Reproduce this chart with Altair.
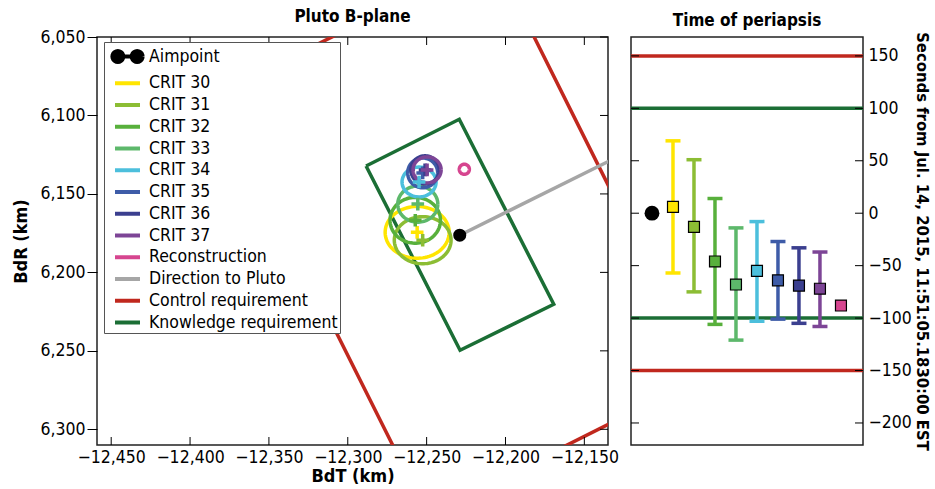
import altair as alt
import pandas as pd
import numpy as np

FONT = "DejaVu Sans Condensed, Liberation Sans Narrow, Arial Narrow, sans-serif"

# ---------------- series / colours ----------------
series = ["Aimpoint", "CRIT 30", "CRIT 31", "CRIT 32", "CRIT 33", "CRIT 34",
          "CRIT 35", "CRIT 36", "CRIT 37", "Reconstruction",
          "Direction to Pluto", "Control requirement", "Knowledge requirement"]
colors = ["#000000", "#ffe500", "#8cbd34", "#58b03c", "#5db86b", "#4cbfdc",
          "#3e5ca8", "#3b3f8f", "#7d4596", "#d6458f",
          "#a6a6a6", "#c0281e", "#1b6e35"]

# ---------------- B-plane data ----------------
bdt_ticks = [-12450, -12400, -12350, -12300, -12250, -12200, -12150]
bdr_ticks = [6050, 6100, 6150, 6200, 6250, 6300]

aim_bdt = [-12229.0]
aim_bdr = [6176.3]

ell_names = ["CRIT 30", "CRIT 31", "CRIT 32", "CRIT 33", "CRIT 34",
             "CRIT 35", "CRIT 36", "CRIT 37", "Reconstruction"]
ell_bdt = [-12256.0, -12252.5, -12257.2, -12255.6, -12254.8, -12252.5, -12251.0, -12249.7, -12226.1]
ell_bdr = [6174.5, 6179.5, 6166.8, 6156.5, 6142.4, 6136.6, 6134.7, 6134.7, 6134.3]
ell_a = [20.3, 18.0, 16.0, 12.7, 10.8, 9.5, 9.0, 8.9, 3.2]   # semi-axis along BdT (km)
ell_b = [16.5, 15.0, 14.6, 11.5, 9.5, 9.5, 9.0, 8.3, 3.2]    # semi-axis along BdR (km)

kn_bdt = [-12288.4, -12229.3, -12169.4, -12228.8, -12288.4]
kn_bdr = [6132.2, 6102.4, 6220.3, 6249.6, 6132.2]
ctl_bdt = [-12382.8, -12207.5, -12074.2, -12249.4, -12382.8]
ctl_bdr = [6086.6, 5998.4, 6266.4, 6354.5, 6086.6]
dir_bdt = [-12229.0, -12043.0]
dir_bdr = [6176.3, 6083.5]

# ---------------- Time of periapsis data ----------------
tp_names = ["Aimpoint", "CRIT 30", "CRIT 31", "CRIT 32", "CRIT 33", "CRIT 34",
            "CRIT 35", "CRIT 36", "CRIT 37", "Reconstruction"]
tp_value = [0, 6, -13, -46, -68, -55, -64, -69, -72, -88]
tp_upper = [None, 69, 51, 14, -14, -8, -27, -33, -37, None]
tp_lower = [None, -57, -75, -106, -121, -103, -101, -105, -108, None]
tp_ticks = [-200, -150, -100, -50, 0, 50, 100, 150]
ctl_limits = [150, -150]
kn_limits = [100, -100]

# ---------------- layout constants ----------------
W1, H1 = 511, 408
W2 = 232
TICK = 8
LW = 3.5
LBL = 17.5

cs = alt.Scale(domain=series, range=colors)

# ---------------- tables ----------------
theta = np.linspace(0, 2 * np.pi, 91)
rows = []
for name, cx, cy, a, b in zip(ell_names, ell_bdt, ell_bdr, ell_a, ell_b):
    for k, t in enumerate(theta):
        rows.append({"series": name, "bdt": cx + a * np.cos(t), "bdr": cy + b * np.sin(t), "k": k})
ell_df = pd.DataFrame(rows)
ctr_df = pd.DataFrame({"series": ell_names, "bdt": ell_bdt, "bdr": ell_bdr})

poly_df = pd.concat([
    pd.DataFrame({"series": "Control requirement", "bdt": ctl_bdt, "bdr": ctl_bdr, "k": range(len(ctl_bdt))}),
    pd.DataFrame({"series": "Knowledge requirement", "bdt": kn_bdt, "bdr": kn_bdr, "k": range(len(kn_bdt))}),
    pd.DataFrame({"series": "Direction to Pluto", "bdt": dir_bdt, "bdr": dir_bdr, "k": range(len(dir_bdt))}),
])
aim_df = pd.DataFrame({"series": ["Aimpoint"], "bdt": aim_bdt, "bdr": aim_bdr})
xt_df = pd.DataFrame({"t": bdt_ticks})
yt_df = pd.DataFrame({"t": bdr_ticks})

# ---------------- left chart ----------------
xs = alt.Scale(domain=[-12459, -12135], nice=False, zero=False)
ys = alt.Scale(domain=[6050, 6310], nice=False, zero=False, reverse=True)

xaxis = alt.Axis(values=bdt_ticks, format=",d", ticks=False, domain=False, grid=False,
                 labelPadding=3, labelFontSize=LBL, labelFont=FONT, labelColor="black",
                 labelFlush=False, labelOverlap=False,
                 title="BdT (km)", titleFont=FONT, titleFontSize=18, titleFontWeight="bold",
                 titleColor="black", titlePadding=2)
yaxis = alt.Axis(values=bdr_ticks, format=",d", tickSize=10, tickColor="black", domain=False,
                 grid=False, labelPadding=2, labelFontSize=LBL, labelFont=FONT, labelColor="black",
                 labelFlush=False, labelOverlap=False,
                 title="BdR (km)", titleFont=FONT, titleFontSize=18, titleFontWeight="bold",
                 titleColor="black", titlePadding=9)


def circle_path(cx, r, n=20):
    ang = np.linspace(0, 2 * np.pi, n + 1)
    pts = ["%.3f,%.3f" % (cx + r * np.cos(a), r * np.sin(a)) for a in ang]
    return "M" + "L".join(pts)


# dot - line - dot symbol, drawn with strokes only (concentric rings fill each dot)
AIM_PATH = (circle_path(-0.92, 0.52) + circle_path(-0.92, 0.17) +
            circle_path(0.92, 0.52) + circle_path(0.92, 0.17) + "M-0.5,0L0.5,0")
LINE_PATH = "M-1.19,0L1.19,0"

legend = alt.Legend(
    title=None, orient="none", legendX=7, legendY=5, padding=2, fillColor="white",
    strokeColor="#555555", labelFont=FONT, labelFontSize=LBL, labelColor="black",
    labelLimit=0, symbolSize=441, symbolStrokeWidth=4, symbolOffset=9, labelOffset=9,
    symbolOpacity=1, rowPadding=0.75,
    symbolType=alt.ExprRef(expr="datum.label === 'Aimpoint' ? '%s' : '%s'" % (AIM_PATH, LINE_PATH)),
)


def X(f):
    return alt.X(f"{f}:Q", scale=xs, axis=xaxis)


def Y(f):
    return alt.Y(f"{f}:Q", scale=ys, axis=yaxis)


def C():
    return alt.Color("series:N", scale=cs, legend=legend)


polys = alt.Chart(poly_df).mark_line(strokeWidth=LW, clip=True).encode(
    x=X("bdt"), y=Y("bdr"), color=C(), detail="series:N", order="k:Q")

ells = alt.Chart(ell_df).mark_line(strokeWidth=LW, clip=True).encode(
    x=X("bdt"), y=Y("bdr"), color=C(), detail="series:N", order="k:Q")

crosses = alt.Chart(ctr_df).transform_filter("datum.series !== 'Reconstruction'").mark_point(
    shape="M-1,0L1,0M0,-1L0,1", filled=False, strokeWidth=LW, size=160, opacity=1
).encode(x=X("bdt"), y=Y("bdr"), color=alt.Color("series:N", scale=cs, legend=None))

rec_cross = alt.Chart(ctr_df).transform_filter("datum.series === 'Reconstruction'").mark_point(
    shape="M-1,0L1,0M0,-1L0,1", filled=False, strokeWidth=1, size=20, opacity=1,
    color="white", strokeDash=[1, 1]
).encode(x=X("bdt"), y=Y("bdr"))

aim = alt.Chart(aim_df).mark_circle(size=170, opacity=1).encode(
    x=X("bdt"), y=Y("bdr"), color=C())

top_ticks = alt.Chart(xt_df).mark_rule(color="black").encode(
    x=X("t"), y=alt.value(0), y2=alt.value(TICK))
bot_ticks = alt.Chart(xt_df).mark_rule(color="black").encode(
    x=X("t"), y=alt.value(H1 - TICK), y2=alt.value(H1))
right_ticks = alt.Chart(yt_df).mark_rule(color="black").encode(
    y=Y("t"), x=alt.value(W1 - TICK), x2=alt.value(W1))

TITLE_KW = dict(font=FONT, fontSize=17, fontWeight="bold", offset=2, anchor="middle", color="black")

left = alt.layer(polys, ells, crosses, rec_cross, aim, top_ticks, bot_ticks, right_ticks).properties(
    width=W1, height=H1, title=alt.TitleParams("Pluto B-plane", **TITLE_KW))

# ---------------- right chart ----------------
tp_df = pd.DataFrame({"series": tp_names, "pos": list(range(1, len(tp_names) + 1)),
                      "value": tp_value, "upper": tp_upper, "lower": tp_lower})
lim_df = pd.DataFrame({"series": ["Control requirement"] * 2 + ["Knowledge requirement"] * 2,
                       "value": ctl_limits + kn_limits})
tpt_df = pd.DataFrame({"t": tp_ticks})

xs2 = alt.Scale(domain=[0, 11.05], nice=False, zero=False)
ys2 = alt.Scale(domain=[-221, 168], nice=False, zero=False)
yaxis2 = alt.Axis(orient="right", values=tp_ticks, ticks=False, domain=False, grid=False,
                  labelPadding=5, labelFontSize=LBL, labelFont=FONT, labelColor="black",
                  labelFlush=False, labelOverlap=False,
                  title="Seconds from Jul. 14, 2015, 11:51:05.1830:00 EST",
                  titleFont=FONT, titleFontSize=16.5, titleFontWeight="bold", titleColor="black",
                  titlePadding=2)


def X2():
    return alt.X("pos:Q", scale=xs2, axis=None)


def Y2(f):
    return alt.Y(f"{f}:Q", scale=ys2, axis=yaxis2)


def C2():
    return alt.Color("series:N", scale=cs, legend=None)


lims = alt.Chart(lim_df).mark_rule(strokeWidth=LW).encode(y=Y2("value"), color=C2())

bars_df = tp_df.dropna()
ebars = alt.Chart(bars_df).mark_rule(strokeWidth=LW).encode(
    x=X2(), y=Y2("lower"), y2="upper:Q", color=C2())
cap_up = alt.Chart(bars_df).mark_tick(orient="horizontal", size=15, thickness=LW, opacity=1).encode(
    x=X2(), y=Y2("upper"), color=C2())
cap_lo = alt.Chart(bars_df).mark_tick(orient="horizontal", size=15, thickness=LW, opacity=1).encode(
    x=X2(), y=Y2("lower"), color=C2())
sq = alt.Chart(tp_df).transform_filter("datum.series !== 'Aimpoint'").mark_square(
    size=120, stroke="black", strokeWidth=1.2, opacity=1, filled=True
).encode(x=X2(), y=Y2("value"), fill=alt.Fill("series:N", scale=cs, legend=None))
aim2 = alt.Chart(tp_df).transform_filter("datum.series === 'Aimpoint'").mark_circle(
    size=220, opacity=1, color="black").encode(x=X2(), y=Y2("value"))

l_ticks = alt.Chart(tpt_df).mark_rule(color="black").encode(
    y=Y2("t"), x=alt.value(0), x2=alt.value(TICK))
r_ticks = alt.Chart(tpt_df).mark_rule(color="black").encode(
    y=Y2("t"), x=alt.value(W2 - TICK), x2=alt.value(W2))

right = alt.layer(lims, ebars, cap_up, cap_lo, sq, aim2, l_ticks, r_ticks).properties(
    width=W2, height=H1, title=alt.TitleParams("Time of periapsis", **TITLE_KW))

chart = alt.hconcat(left, right, spacing=23, bounds="flush").resolve_scale(
    color="independent", fill="independent"
).properties(
    padding={"left": 12, "top": 7, "right": 0, "bottom": 0},
    background="white",
).configure_view(stroke="#222222", strokeWidth=1.5)

chart.save("out.html", embed_options={"renderer": "svg", "actions": False})
